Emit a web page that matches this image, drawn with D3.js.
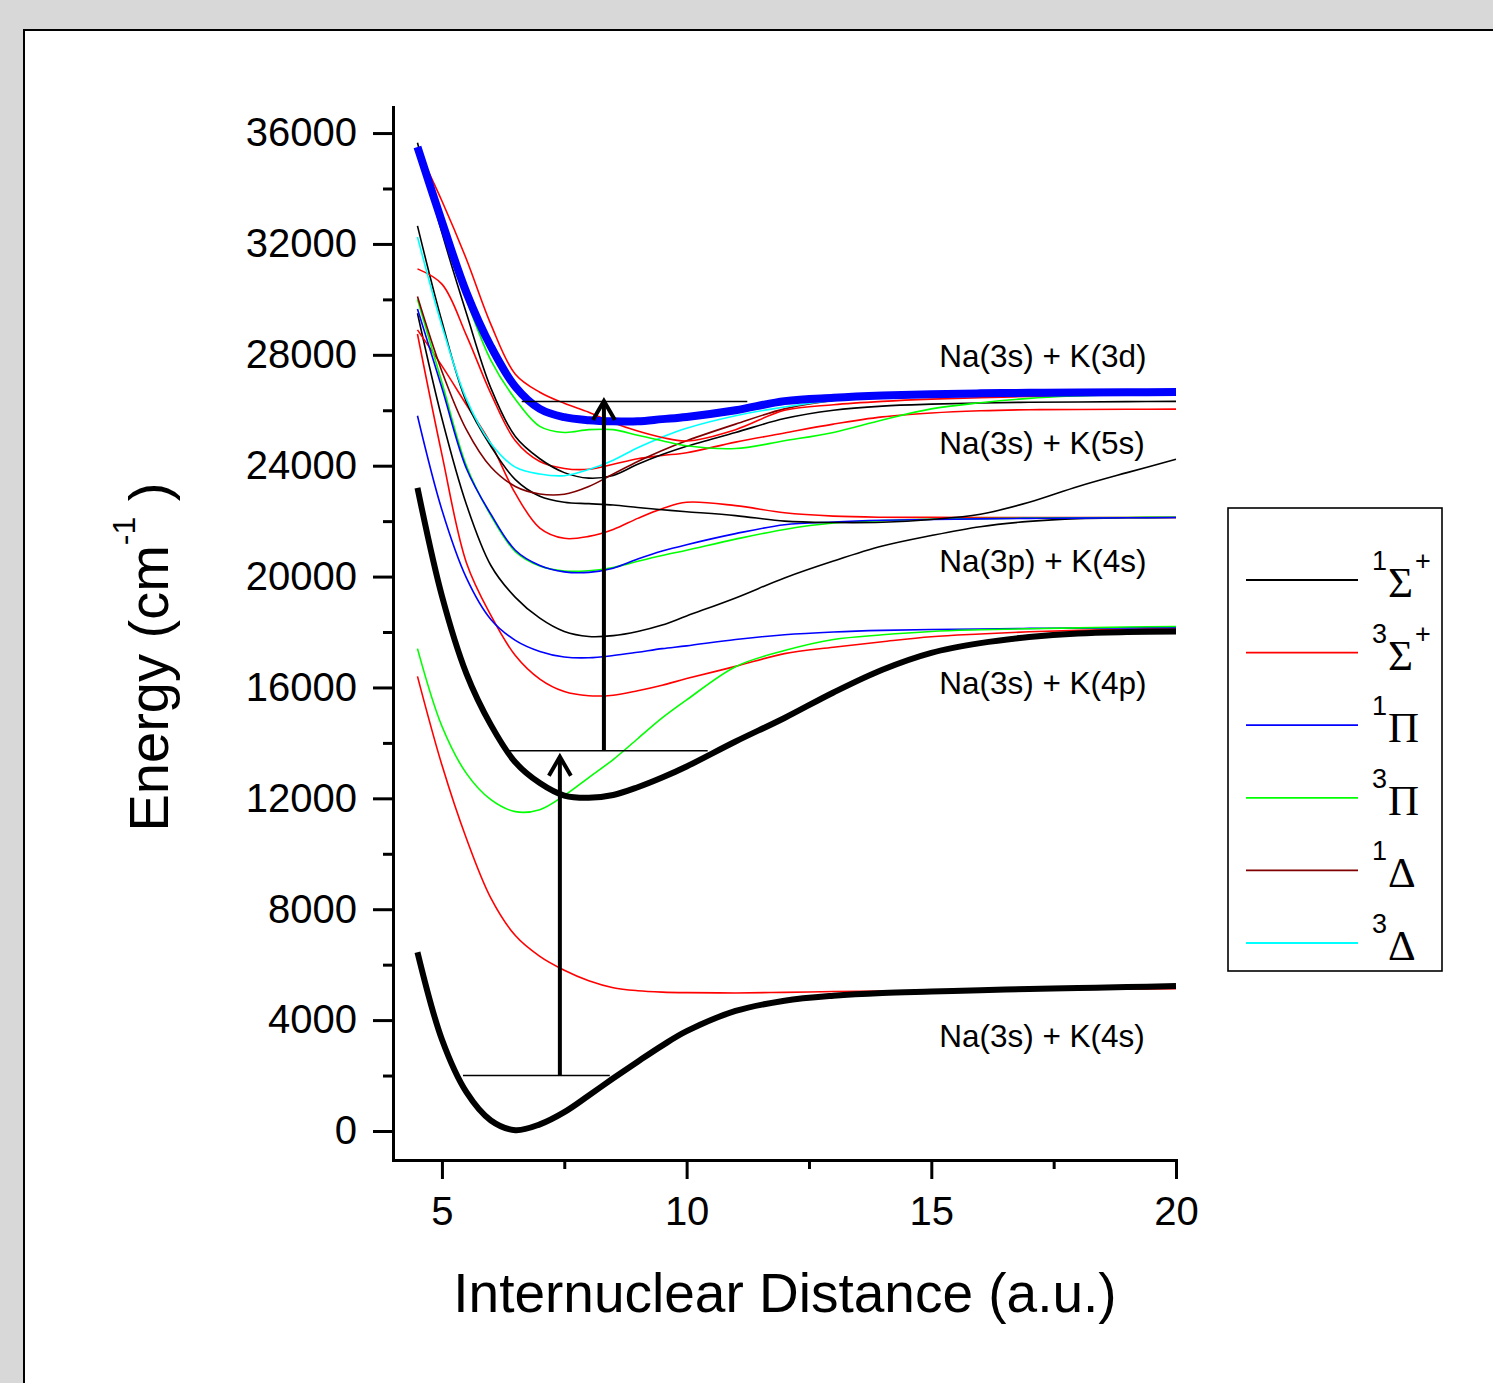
<!DOCTYPE html>
<html>
<head>
<meta charset="utf-8">
<script src="https://cdn.jsdelivr.net/npm/d3@7"></script>
<style>
  body { margin: 0; background: #d8d8d8; }
  svg { display: block; }
</style>
</head>
<body>
<div id="canvas"></div>
<script>
// internuclear distance grid (a.u.), every curve is sampled on it
var rGrid = [4.5, 5, 5.5, 6, 6.5, 7, 7.5, 8, 8.5, 9, 9.5, 10, 11, 12, 13, 14, 15, 16, 17, 18, 19, 20];

// energies in cm-1
// Na(3s) + K(4s)
var s1_4s = [6450, 3300, 1400, 380, 30, 240, 680, 1280, 1900, 2500, 3080, 3600, 4330, 4700, 4880, 4980, 5030, 5080, 5120, 5160, 5190, 5230];
var s3_4s = [16400, 13200, 10550, 8400, 7050, 6300, 5800, 5420, 5170, 5060, 5010, 4990, 4980, 5000, 5030, 5050, 5070, 5090, 5100, 5110, 5120, 5130];
// Na(3s) + K(4p)
var s1_4p = [23200, 19300, 16500, 14650, 13300, 12550, 12100, 12020, 12120, 12400, 12750, 13150, 14050, 14900, 15820, 16640, 17250, 17600, 17820, 17950, 18000, 18020];
var p3_4p = [17400, 14600, 12900, 11950, 11520, 11590, 12100, 12750, 13400, 14150, 14900, 15550, 16750, 17330, 17730, 17900, 18020, 18080, 18120, 18150, 18180, 18200];
var p1_4p = [25800, 22400, 19950, 18450, 17700, 17300, 17100, 17070, 17150, 17270, 17400, 17500, 17730, 17900, 18000, 18060, 18090, 18110, 18130, 18140, 18150, 18160];
var s3_4p = [28750, 24400, 20500, 18600, 17150, 16300, 15850, 15700, 15720, 15880, 16080, 16320, 16760, 17220, 17450, 17650, 17830, 17930, 18010, 18060, 18100, 18130];
// Na(3p) + K(4s)
var s1_3p = [29500, 25700, 22600, 20400, 19250, 18500, 18020, 17840, 17870, 18020, 18250, 18580, 19230, 19950, 20560, 21100, 21480, 21800, 21990, 22090, 22120, 22130];
var s3_3p = [28900, 27600, 26200, 24800, 23000, 21750, 21380, 21450, 21700, 22100, 22450, 22680, 22560, 22300, 22180, 22140, 22135, 22130, 22130, 22130, 22130, 22130];
var p1_3p = [29650, 26800, 23900, 22250, 20950, 20400, 20170, 20150, 20300, 20630, 20920, 21150, 21550, 21870, 21970, 22030, 22060, 22080, 22100, 22110, 22120, 22130];
var p3_3p = [30000, 27000, 24000, 22200, 20900, 20380, 20200, 20210, 20330, 20550, 20760, 20950, 21350, 21700, 21930, 22020, 22070, 22090, 22110, 22120, 22130, 22140];
var s1_3pb = [32650, 29200, 26300, 24700, 23500, 22900, 22680, 22630, 22580, 22490, 22410, 22340, 22200, 22000, 21950, 21960, 22060, 22250, 22680, 23250, 23750, 24230];
// Na(3s) + K(5s)
var s1_5s = [35650, 32400, 29500, 26800, 25050, 24250, 23750, 23550, 23650, 24050, 24400, 24700, 25200, 25700, 26000, 26150, 26220, 26260, 26290, 26300, 26310, 26320];
var s3_5s = [31100, 30550, 28700, 26600, 24900, 24150, 23900, 23870, 24050, 24250, 24370, 24470, 24850, 25180, 25500, 25760, 25900, 25980, 26020, 26030, 26035, 26040];
// Na(3s) + K(3d)
var s3_3d = [35450, 33550, 31450, 29100, 27300, 26650, 26250, 25930, 25550, 25250, 25020, 24890, 25300, 26000, 26200, 26320, 26400, 26450, 26500, 26540, 26570, 26600];
var p3_3d = [35300, 32600, 30000, 27800, 26400, 25420, 25200, 25300, 25300, 25100, 24900, 24720, 24620, 24900, 25200, 25650, 26050, 26270, 26430, 26520, 26580, 26610];
var d3_3d = [32250, 29050, 26400, 24800, 23950, 23700, 23640, 23860, 24200, 24650, 25030, 25350, 25800, 26120, 26350, 26480, 26550, 26590, 26610, 26620, 26630, 26640];
var d1_3d = [30100, 27400, 25300, 23950, 23250, 22980, 22970, 23250, 23700, 24150, 24550, 24900, 25500, 26050, 26350, 26500, 26570, 26610, 26630, 26640, 26650, 26660];
var p1_3d = [35500, 32800, 30250, 28300, 26850, 26050, 25750, 25640, 25600, 25600, 25680, 25760, 26000, 26330, 26450, 26530, 26580, 26610, 26630, 26640, 26650, 26660];

// axis ticks
var yTicks = [0, 4000, 8000, 12000, 16000, 20000, 24000, 28000, 32000, 36000];
var yMinor = [2000, 6000, 10000, 14000, 18000, 22000, 26000, 30000, 34000];
var xTicks = [5, 10, 15, 20];
var xMinor = [7.5, 12.5, 17.5];

// excitation scheme: levels and arrows
var levelE = [2000, 13720, 26320];
var levelR0 = [5.43, 6.35, 6.63];
var levelR1 = [8.43, 10.43, 11.24];
var arrowR = [7.41, 8.31];
var arrowFrom = [2000, 13720];
var arrowTo = [13500, 26330];

// asymptote labels
var asymLabels = ["Na(3s) + K(3d)", "Na(3s) + K(5s)", "Na(3p) + K(4s)", "Na(3s) + K(4p)", "Na(3s) + K(4s)"];
var asymE = [27550, 24410, 20150, 15780, 3030];
var asymR = 15.16;

// legend
var legendSpin = ["1", "3", "1", "3", "1", "3"];
var legendSym = ["\u03A3", "\u03A3", "\u03A0", "\u03A0", "\u0394", "\u0394"];
var legendPlus = [true, true, false, false, false, false];
var legendColors = ["black", "red", "blue", "#00ff00", "#800000", "cyan"];

var font = "Arial, 'Liberation Sans', sans-serif";

var curves = [
  {v: s3_4s, c: "red", w: 1.6},
  {v: s3_4p, c: "red", w: 1.6},
  {v: p1_4p, c: "blue", w: 1.6},
  {v: p3_4p, c: "#00ff00", w: 1.6},
  {v: s1_3p, c: "black", w: 1.6},
  {v: s3_3p, c: "red", w: 1.6},
  {v: p3_3p, c: "#00ff00", w: 1.6},
  {v: p1_3p, c: "blue", w: 1.6},
  {v: s1_3pb, c: "black", w: 1.6},
  {v: s3_5s, c: "red", w: 1.6},
  {v: s1_5s, c: "black", w: 1.6},
  {v: d1_3d, c: "#800000", w: 1.6},
  {v: d3_3d, c: "cyan", w: 1.6},
  {v: s3_3d, c: "red", w: 1.6},
  {v: p3_3d, c: "#00ff00", w: 1.6},
  {v: s1_4s, c: "black", w: 6},
  {v: s1_4p, c: "black", w: 6},
  {v: p1_3d, c: "blue", w: 8}
];

var svg = d3.select("#canvas").append("svg")
  .attr("width", 1493)
  .attr("height", 1383);

svg.append("rect")
  .attr("width", 1493).attr("height", 1383)
  .attr("fill", "#d8d8d8");

svg.append("rect")
  .attr("x", 24).attr("y", 30)
  .attr("width", 1500).attr("height", 1400)
  .attr("fill", "white")
  .attr("stroke", "black")
  .attr("stroke-width", 2);

var x = d3.scaleLinear().domain([4, 20]).range([393, 1176]);
var y = d3.scaleLinear().domain([-1047, 36940]).range([1160, 107]);

var line = d3.line()
  .x(function (d, i) { return x(rGrid[i]); })
  .y(function (d) { return y(d); })
  .curve(d3.curveCatmullRom.alpha(0.5));

svg.append("g")
  .selectAll("path")
  .data(curves)
  .enter()
  .append("path")
  .attr("d", function (d) { return line(d.v); })
  .attr("fill", "none")
  .attr("stroke", function (d) { return d.c; })
  .attr("stroke-width", function (d) { return d.w; })
  .attr("stroke-linejoin", "round");

// axes
const yAxisCall = d3.axisLeft(y)
  .tickValues(yTicks)
  .tickSize(20)
  .tickSizeOuter(0)
  .tickPadding(16)
  .tickFormat(d3.format("d"));

var yg = svg.append("g")
  .attr("transform", "translate(393,0)")
  .call(yAxisCall);

const yMinorCall = d3.axisLeft(y).tickValues(yMinor).tickSize(10).tickFormat("");
var ym = svg.append("g")
  .attr("transform", "translate(393,0)")
  .call(yMinorCall);
ym.select(".domain").remove();

const xAxisCall = d3.axisBottom(x)
  .tickValues(xTicks)
  .tickSize(19)
  .tickSizeOuter(0)
  .tickPadding(18);

var xg = svg.append("g")
  .attr("transform", "translate(0,1160)")
  .call(xAxisCall);

const xMinorCall = d3.axisBottom(x).tickValues(xMinor).tickSize(9).tickFormat("");
var xm = svg.append("g")
  .attr("transform", "translate(0,1160)")
  .call(xMinorCall);
xm.select(".domain").remove();

[yg, ym, xg, xm].forEach(function (g) {
  g.selectAll("line").attr("stroke-width", 3).attr("stroke", "black");
  g.selectAll(".domain").attr("stroke-width", 3).attr("stroke", "black").attr("stroke-linecap", "square");
  g.selectAll("text")
    .attr("font-family", font)
    .attr("font-size", 40)
    .attr("fill", "black");
});

// axis titles
svg.append("text")
  .attr("x", 785).attr("y", 1312)
  .attr("text-anchor", "middle")
  .attr("font-family", font)
  .attr("font-size", 55)
  .text("Internuclear Distance (a.u.)");

var yt = svg.append("text")
  .attr("transform", "translate(168,657) rotate(-90)")
  .attr("text-anchor", "middle")
  .attr("font-family", font)
  .attr("font-size", 56);
yt.append("tspan").text("Energy (cm");
yt.append("tspan").attr("dy", -33).attr("font-size", 32).text("-1");
yt.append("tspan").attr("dy", 33).text(" )");

// vibrational levels
var ann = svg.append("g");
ann.selectAll("line.level")
  .data(levelE)
  .enter()
  .append("line")
  .attr("class", "level")
  .attr("x1", function (d, i) { return x(levelR0[i]); })
  .attr("x2", function (d, i) { return x(levelR1[i]); })
  .attr("y1", function (d) { return y(d); })
  .attr("y2", function (d) { return y(d); })
  .attr("stroke", "black")
  .attr("stroke-width", 1.5);

// excitation arrows
ann.selectAll("line.shaft")
  .data(arrowR)
  .enter()
  .append("line")
  .attr("class", "shaft")
  .attr("x1", function (d) { return x(d); })
  .attr("x2", function (d) { return x(d); })
  .attr("y1", function (d, i) { return y(arrowFrom[i]); })
  .attr("y2", function (d, i) { return y(arrowTo[i]) + 2; })
  .attr("stroke", "black")
  .attr("stroke-width", 4);

ann.selectAll("path.head")
  .data(arrowR)
  .enter()
  .append("path")
  .attr("class", "head")
  .attr("d", function (d, i) {
    var px = x(d), py = y(arrowTo[i]);
    return "M" + (px - 11) + "," + (py + 19) + "L" + px + "," + py + "L" + (px + 11) + "," + (py + 19);
  })
  .attr("fill", "none")
  .attr("stroke", "black")
  .attr("stroke-width", 4)
  .attr("stroke-linejoin", "miter");

// asymptote labels
svg.append("g")
  .selectAll("text")
  .data(asymLabels)
  .enter()
  .append("text")
  .attr("x", x(asymR))
  .attr("y", function (d, i) { return y(asymE[i]); })
  .attr("font-family", font)
  .attr("font-size", 31.5)
  .text(function (d) { return d; });

// legend
var lg = svg.append("g");
lg.append("rect")
  .attr("x", 1228).attr("y", 508)
  .attr("width", 214).attr("height", 463)
  .attr("fill", "white")
  .attr("stroke", "black")
  .attr("stroke-width", 1.6);

var items = lg.selectAll("g.item")
  .data(legendSym)
  .enter()
  .append("g")
  .attr("class", "item")
  .attr("transform", function (d, i) { return "translate(0," + (580 + i * 72.6) + ")"; });

items.append("line")
  .attr("x1", 1246).attr("x2", 1358)
  .attr("y1", 0).attr("y2", 0)
  .attr("stroke", function (d, i) { return legendColors[i]; })
  .attr("stroke-width", 1.8);

items.append("text")
  .attr("x", 1372).attr("y", -10)
  .attr("font-family", font)
  .attr("font-size", 27)
  .text(function (d, i) { return legendSpin[i]; });

items.append("text")
  .attr("x", 1388).attr("y", 17)
  .attr("font-family", "'Times New Roman', 'Liberation Serif', serif")
  .attr("font-size", 43)
  .text(function (d) { return d; });

items.filter(function (d, i) { return legendPlus[i]; })
  .append("text")
  .attr("x", 1415).attr("y", -10)
  .attr("font-family", font)
  .attr("font-size", 27)
  .text("+");
</script>
</body>
</html>
